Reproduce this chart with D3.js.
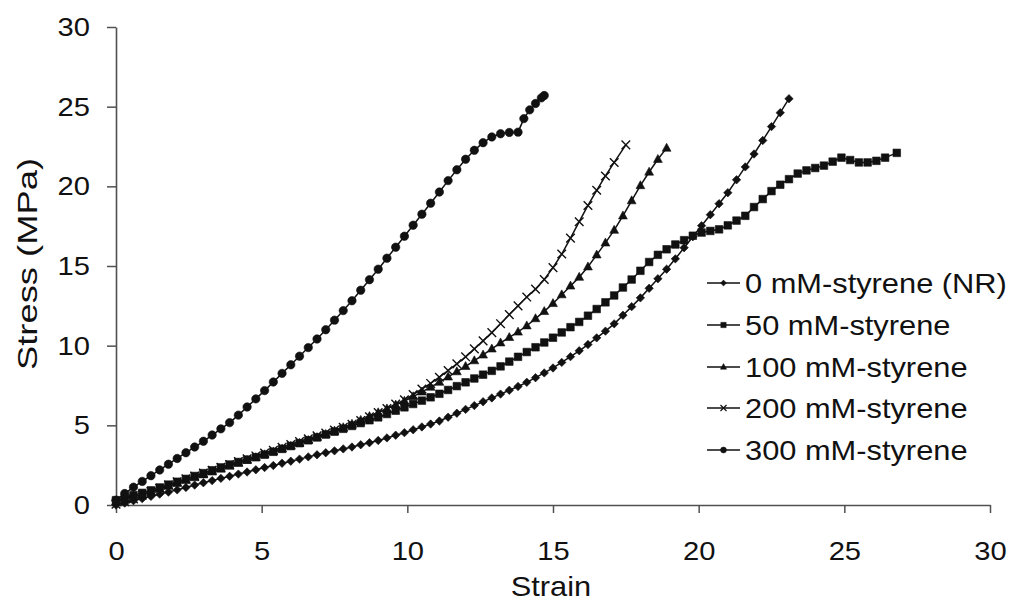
<!DOCTYPE html>
<html><head><meta charset="utf-8">
<script src="https://cdn.jsdelivr.net/npm/d3@7"></script>
<style>html,body{margin:0;padding:0;background:#fff;} svg{display:block;}</style>
</head><body>
<svg id="chart" width="1014" height="601"></svg>
<script>
// ---- data ----
const seriesLabels = ["0 mM-styrene (NR)", "50 mM-styrene", "100 mM-styrene", "200 mM-styrene", "300 mM-styrene"];
const xTicks = [0, 5, 10, 15, 20, 25, 30];
const yTicks = [0, 5, 10, 15, 20, 25, 30];
const xTitle = "Strain";
const yTitle = "Stress (MPa)";

const nr0 = [[0,0],[0.3,0.12],[0.6,0.27],[0.9,0.4],[1.2,0.54],[1.5,0.68],[1.8,0.81],[2.1,0.95],[2.4,1.1],[2.7,1.25],[3,1.4],[3.3,1.53],[3.6,1.67],[3.9,1.8],[4.2,1.94],[4.5,2.07],[4.8,2.21],[5.1,2.35],[5.4,2.48],[5.7,2.62],[6,2.75],[6.3,2.88],[6.6,3.02],[6.9,3.15],[7.2,3.28],[7.5,3.4],[7.8,3.52],[8.1,3.64],[8.4,3.78],[8.7,3.91],[9,4.05],[9.3,4.21],[9.6,4.38],[9.9,4.54],[10.2,4.72],[10.5,4.9],[10.8,5.08],[11.1,5.27],[11.4,5.51],[11.7,5.76],[12,6],[12.3,6.24],[12.6,6.48],[12.9,6.72],[13.2,6.96],[13.5,7.2],[13.8,7.44],[14.1,7.7],[14.4,7.99],[14.7,8.29],[15,8.6],[15.3,8.95],[15.6,9.31],[15.9,9.68],[16.2,10.07],[16.5,10.49],[16.8,10.91],[17.1,11.37],[17.4,11.91],[17.7,12.45],[18,13],[18.3,13.6],[18.6,14.2],[18.9,14.8],[19.2,15.45],[19.5,16.15],[19.8,16.84],[20.1,17.53],[20.4,18.22],[20.7,18.91],[21,19.6],[21.3,20.41],[21.6,21.22],[21.9,22.03],[22.2,22.88],[22.5,23.75],[22.8,24.62],[23.1,25.5]];

const sty50 = [[0,0.3],[0.3,0.45],[0.6,0.62],[0.9,0.76],[1.2,0.92],[1.5,1.1],[1.8,1.28],[2.1,1.46],[2.4,1.64],[2.7,1.82],[3,2],[3.3,2.18],[3.6,2.36],[3.9,2.54],[4.2,2.7],[4.5,2.85],[4.8,3],[5.1,3.16],[5.4,3.34],[5.7,3.52],[6,3.7],[6.3,3.88],[6.6,4.06],[6.9,4.24],[7.2,4.42],[7.5,4.6],[7.8,4.78],[8.1,4.96],[8.4,5.14],[8.7,5.32],[9,5.5],[9.3,5.71],[9.6,5.92],[9.9,6.13],[10.2,6.34],[10.5,6.55],[10.8,6.76],[11.1,6.98],[11.4,7.22],[11.7,7.46],[12,7.7],[12.3,7.94],[12.6,8.18],[12.9,8.42],[13.2,8.7],[13.5,9],[13.8,9.3],[14.1,9.6],[14.4,9.9],[14.7,10.2],[15,10.5],[15.3,10.83],[15.6,11.16],[15.9,11.49],[16.2,11.88],[16.5,12.3],[16.8,12.72],[17.1,13.15],[17.4,13.65],[17.7,14.15],[18,14.7],[18.3,15.25],[18.6,15.7],[18.9,16.05],[19.2,16.35],[19.5,16.62],[19.8,16.9],[20.1,17.1],[20.4,17.2],[20.7,17.3],[21,17.55],[21.3,17.85],[21.6,18.15],[21.9,18.7],[22.2,19.2],[22.5,19.7],[22.8,20.1],[23.1,20.45],[23.4,20.8],[23.7,21],[24,21.15],[24.3,21.3],[24.6,21.55],[24.9,21.8],[25.2,21.65],[25.5,21.5],[25.8,21.5],[26.1,21.6],[26.4,21.8],[26.8,22.1]];

const sty100 = [[0,0.2],[0.3,0.4],[0.6,0.55],[0.9,0.66],[1.2,0.82],[1.5,1],[1.8,1.18],[2.1,1.36],[2.4,1.54],[2.7,1.72],[3,1.9],[3.3,2.08],[3.6,2.26],[3.9,2.44],[4.2,2.62],[4.5,2.8],[4.8,2.98],[5.1,3.16],[5.4,3.34],[5.7,3.52],[6,3.7],[6.3,3.88],[6.6,4.06],[6.9,4.24],[7.2,4.44],[7.5,4.65],[7.8,4.86],[8.1,5.08],[8.4,5.32],[8.7,5.56],[9,5.8],[9.3,6.04],[9.6,6.28],[9.9,6.52],[10.2,6.8],[10.5,7.1],[10.8,7.4],[11.1,7.71],[11.4,8.04],[11.7,8.37],[12,8.7],[12.3,9.06],[12.6,9.42],[12.9,9.8],[13.2,10.18],[13.5,10.52],[13.8,10.86],[14.1,11.25],[14.4,11.7],[14.7,12.15],[15,12.65],[15.3,13.2],[15.6,13.75],[15.9,14.3],[16.2,14.95],[16.5,15.7],[16.8,16.45],[17.1,17.25],[17.4,18.15],[17.7,19.1],[18,20.05],[18.3,20.9],[18.6,21.7],[18.9,22.4]];

const sty200 = [[0,0.05],[0.3,0.2],[0.6,0.38],[0.9,0.62],[1.2,0.84],[1.5,1.05],[1.8,1.26],[2.1,1.46],[2.4,1.64],[2.7,1.82],[3,2],[3.3,2.18],[3.6,2.36],[3.9,2.54],[4.2,2.72],[4.5,2.9],[4.8,3.08],[5.1,3.26],[5.4,3.44],[5.7,3.62],[6,3.8],[6.3,3.98],[6.6,4.16],[6.9,4.34],[7.2,4.52],[7.5,4.7],[7.8,4.88],[8.1,5.07],[8.4,5.3],[8.7,5.54],[9,5.8],[9.3,6.06],[9.6,6.33],[9.9,6.6],[10.2,6.93],[10.5,7.28],[10.8,7.63],[11.1,8.02],[11.4,8.44],[11.7,8.86],[12,9.3],[12.3,9.8],[12.6,10.3],[12.9,10.82],[13.2,11.38],[13.5,11.95],[13.8,12.5],[14.1,13.05],[14.4,13.55],[14.7,14.15],[15,14.9],[15.3,15.75],[15.6,16.75],[15.9,17.78],[16.2,18.8],[16.5,19.75],[16.8,20.65],[17.1,21.5],[17.5,22.6]];

const sty300 = [[0,0.3],[0.3,0.72],[0.6,1.12],[0.9,1.48],[1.2,1.84],[1.5,2.2],[1.8,2.56],[2.1,2.92],[2.4,3.28],[2.7,3.64],[3,4],[3.3,4.39],[3.6,4.78],[3.9,5.17],[4.2,5.64],[4.5,6.15],[4.8,6.66],[5.1,7.18],[5.4,7.72],[5.7,8.26],[6,8.8],[6.3,9.34],[6.6,9.88],[6.9,10.42],[7.2,11],[7.5,11.6],[7.8,12.2],[8.1,12.82],[8.4,13.48],[8.7,14.14],[9,14.8],[9.3,15.49],[9.6,16.18],[9.9,16.87],[10.2,17.56],[10.5,18.25],[10.8,18.94],[11.1,19.64],[11.4,20.36],[11.7,21.04],[12,21.7],[12.3,22.26],[12.6,22.74],[12.9,23.1],[13.2,23.3],[13.5,23.38],[13.8,23.4],[14,24.25],[14.2,24.8],[14.4,25.2],[14.6,25.55],[14.7,25.7]];

const seriesData = [nr0, sty50, sty100, sty200, sty300];
const markerKinds = ["diamond", "square", "triangle", "times", "circle"];

// ---- drawing ----
const svg = d3.select("#chart");
svg.append("rect").attr("width", 1014).attr("height", 601).attr("fill", "#ffffff");

const x = d3.scaleLinear().domain([0, 30]).range([116, 990]);
const y = d3.scaleLinear().domain([0, 30]).range([505, 27]);

const FONT = "'Liberation Sans', Arial, Helvetica, sans-serif";
const STRETCH = 1.1;
function stretch(sel, factor) {
  sel.each(function () {
    const w = this.getComputedTextLength();
    d3.select(this).attr("textLength", w * (factor || STRETCH)).attr("lengthAdjust", "spacingAndGlyphs");
  });
}

const axisColor = "#505050";
const gx = svg.append("g").attr("transform", `translate(0,${y(0)})`)
  .call(d3.axisBottom(x).tickValues(xTicks).tickFormat(d3.format("d")).tickSize(8).tickSizeOuter(0).tickPadding(28));
const gy = svg.append("g").attr("transform", `translate(${x(0)},0)`)
  .call(d3.axisLeft(y).tickValues(yTicks).tickFormat(d3.format("d")).tickSize(9).tickSizeOuter(0).tickPadding(17));
[gx, gy].forEach(g => {
  g.select(".domain").attr("stroke", axisColor).attr("stroke-width", 1.6);
  g.selectAll(".tick line").attr("stroke", axisColor).attr("stroke-width", 1.5);
  g.selectAll(".tick text").attr("fill", "#111").attr("font-size", 26.5).attr("font-family", FONT);
});
stretch(gx.selectAll(".tick text"));
stretch(gy.selectAll(".tick text"));

// axis titles
svg.append("text").attr("x", 551).attr("y", 596).attr("text-anchor", "middle")
  .attr("font-family", FONT).attr("font-size", 28).attr("fill", "#111").text(xTitle)
  .call(stretch);
svg.append("text").attr("transform", "translate(37,264) rotate(-90)").attr("text-anchor", "middle")
  .attr("font-family", FONT).attr("font-size", 28).attr("fill", "#111").text(yTitle)
  .attr("textLength", 212).attr("lengthAdjust", "spacingAndGlyphs");

// marker shapes
function markerPath(kind, r) {
  switch (kind) {
    case "diamond": return `M0,${-r}L${r},0L0,${r}L${-r},0Z`;
    case "square": return `M${-r},${-r}H${r}V${r}H${-r}Z`;
    case "triangle": return `M0,${-r * 1.15}L${r * 1.05},${r * 0.75}L${-r * 1.05},${r * 0.75}Z`;
    case "times": return `M${-r},${-r}L${r},${r}M${-r},${r}L${r},${-r}`;
    case "circle": return `M${r},0A${r},${r} 0 1,1 ${-r},0A${r},${r} 0 1,1 ${r},0Z`;
  }
}
const markerR = { diamond: 4.2, square: 3.8, triangle: 4.2, times: 4.3, circle: 4.2 };

const line = d3.line().x(d => x(d[0])).y(d => y(d[1]));
const plot = svg.append("g");
seriesData.forEach((data, i) => {
  const kind = markerKinds[i];
  const g = plot.append("g");
  g.append("path").datum(data).attr("d", line).attr("fill", "none").attr("stroke", "#111").attr("stroke-width", 1.5);
  g.selectAll("path.m").data(data).join("path").attr("class", "m")
    .attr("transform", d => `translate(${x(d[0])},${y(d[1])})`)
    .attr("d", markerPath(kind, markerR[kind]))
    .attr("fill", kind === "times" ? "none" : "#111")
    .attr("stroke", "#111").attr("stroke-width", kind === "times" ? 1.4 : 0.6);
});

// legend
const legendRows = [283, 325, 367, 408, 450];
const legend = svg.append("g");
seriesLabels.forEach((lab, i) => {
  const cy = legendRows[i];
  const kind = markerKinds[i];
  legend.append("line").attr("x1", 707).attr("x2", 740).attr("y1", cy).attr("y2", cy)
    .attr("stroke", "#111").attr("stroke-width", 1.3);
  legend.append("path").attr("transform", `translate(723.5,${cy})`)
    .attr("d", markerPath(kind, markerR[kind] * 0.7))
    .attr("fill", kind === "times" ? "none" : "#111").attr("stroke", "#111")
    .attr("stroke-width", kind === "times" ? 1.2 : 0.5);
  legend.append("text").attr("x", 745).attr("y", cy + 10).attr("font-family", FONT)
    .attr("font-size", 28).attr("fill", "#111").text(lab).call(stretch);
});
</script>
</body></html>
